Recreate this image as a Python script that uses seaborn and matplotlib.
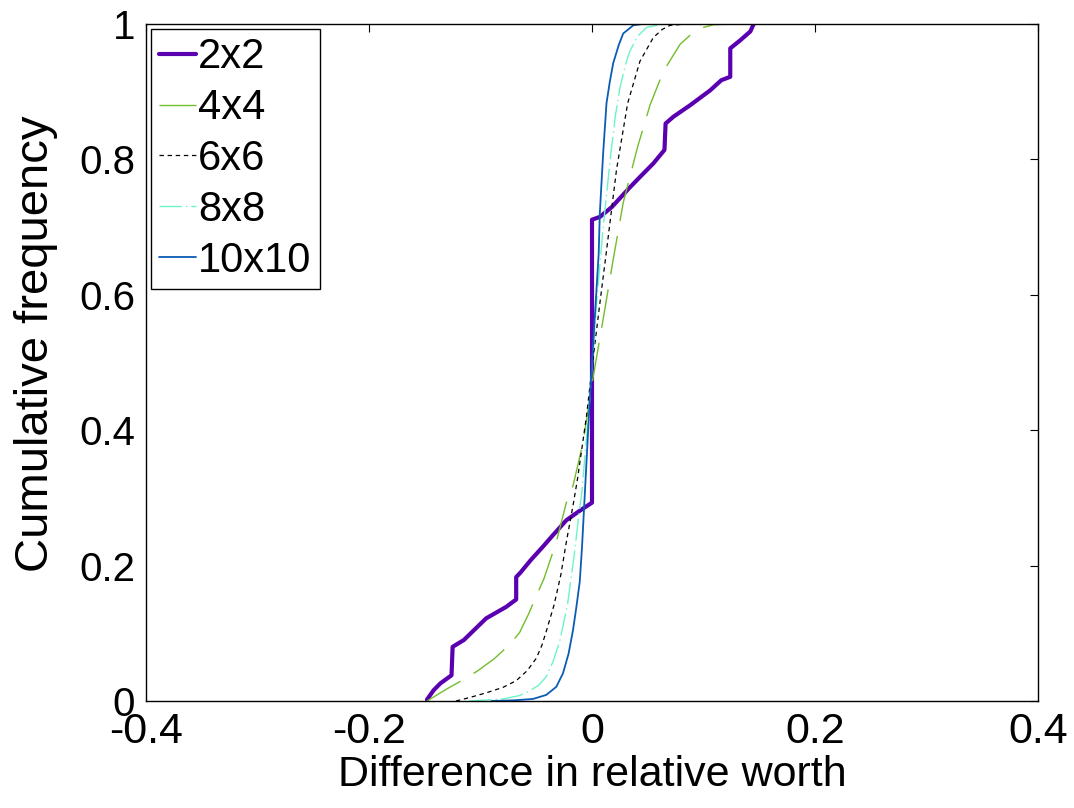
import numpy as np
import pandas as pd
import matplotlib
matplotlib.use("Agg")
import matplotlib.pyplot as plt
import seaborn as sns

# ---- data ----
x_2x2 = [-0.148, -0.142, -0.136, -0.126, -0.125, -0.115, -0.095, -0.077, -0.068, -0.068,
         -0.064, -0.055, -0.044, -0.035, -0.023, -0.011, 0.000, 0.000, 0.007, 0.018,
         0.033, 0.043, 0.055, 0.065, 0.066, 0.073, 0.088, 0.106, 0.116, 0.124,
         0.124, 0.133, 0.142, 0.145]
y_2x2 = [0.002, 0.016, 0.026, 0.038, 0.080, 0.090, 0.122, 0.139, 0.150, 0.183,
         0.190, 0.208, 0.228, 0.245, 0.267, 0.281, 0.293, 0.711, 0.715, 0.730,
         0.757, 0.774, 0.794, 0.814, 0.853, 0.863, 0.880, 0.902, 0.917, 0.922,
         0.964, 0.976, 0.989, 1.000]

x_4x4 = [-0.148, -0.130, -0.116, -0.103, -0.088, -0.074, -0.065, -0.057, -0.050, -0.043,
         -0.032, -0.023, -0.017, -0.008, 0.001, 0.010, 0.019, 0.028, 0.041, 0.052,
         0.064, 0.079, 0.091, 0.100, 0.109, 0.127]
y_4x4 = [0.000, 0.018, 0.031, 0.044, 0.062, 0.083, 0.101, 0.128, 0.155, 0.181,
         0.235, 0.293, 0.318, 0.382, 0.478, 0.564, 0.652, 0.736, 0.819, 0.880,
         0.930, 0.970, 0.988, 0.995, 0.999, 1.000]

x_6x6 = [-0.122, -0.110, -0.095, -0.080, -0.068, -0.058, -0.050, -0.045, -0.041, -0.034,
         -0.028, -0.023, -0.017, -0.013, -0.005, 0.002, 0.008, 0.013, 0.022, 0.032,
         0.043, 0.055, 0.063, 0.070, 0.085]
y_6x6 = [0.000, 0.005, 0.012, 0.020, 0.030, 0.045, 0.063, 0.082, 0.103, 0.142,
         0.186, 0.235, 0.289, 0.328, 0.420, 0.520, 0.600, 0.665, 0.785, 0.883,
         0.945, 0.980, 0.992, 0.998, 1.000]

x_8x8 = [-0.110, -0.080, -0.065, -0.056, -0.048, -0.041, -0.035, -0.029, -0.022, -0.016,
         -0.012, -0.009, -0.002, 0.004, 0.010, 0.017, 0.021, 0.025, 0.030, 0.034,
         0.041, 0.049, 0.065]
y_8x8 = [0.000, 0.003, 0.008, 0.015, 0.023, 0.036, 0.058, 0.088, 0.142, 0.215,
         0.272, 0.310, 0.446, 0.585, 0.700, 0.810, 0.865, 0.905, 0.940, 0.960,
         0.982, 0.995, 1.000]

x_10x10 = [-0.090, -0.070, -0.053, -0.041, -0.032, -0.026, -0.021, -0.017, -0.014, -0.011,
           -0.009, -0.002, 0.006, 0.007, 0.010, 0.013, 0.016, 0.019, 0.024, 0.028,
           0.037, 0.045]
y_10x10 = [0.000, 0.001, 0.003, 0.009, 0.021, 0.041, 0.070, 0.105, 0.139, 0.176,
           0.226, 0.445, 0.661, 0.720, 0.809, 0.883, 0.915, 0.942, 0.969, 0.986,
           0.998, 1.000]

series_names = ["2x2", "4x4", "6x6", "8x8", "10x10"]
x_ticks = [-0.4, -0.2, 0, 0.2, 0.4]
x_tick_labels = ["-0.4", "-0.2", "0", "0.2", "0.4"]
y_ticks = [0, 0.2, 0.4, 0.6, 0.8, 1]
y_tick_labels = ["0", "0.2", "0.4", "0.6", "0.8", "1"]

# ---- styling ----
sns.set_style("white")
plt.rcParams['font.family'] = ['Liberation Sans', 'DejaVu Sans']
plt.rcParams['text.color'] = 'black'
plt.rcParams['axes.labelcolor'] = 'black'
plt.rcParams['xtick.color'] = 'black'
plt.rcParams['ytick.color'] = 'black'

styles = {
    "2x2":   dict(color="#5a00b0", lw=3.0, ls="-"),
    "4x4":   dict(color="#72bd2a", lw=1.0, ls=(0, (28, 11))),
    "6x6":   dict(color="#000000", lw=0.9, ls=(0, (3.5, 3))),
    "8x8":   dict(color="#6cf5c8", lw=1.0, ls=(0, (16, 3, 1, 3))),
    "10x10": dict(color="#0b5cb5", lw=1.3, ls="-"),
}

xs = [x_2x2, x_4x4, x_6x6, x_8x8, x_10x10]
ys = [y_2x2, y_4x4, y_6x6, y_8x8, y_10x10]

fig = plt.figure(figsize=(10.74, 8.08), dpi=100)
ax = fig.add_axes([146 / 1074, 1 - 701 / 808, (1038 - 146) / 1074, (701 - 24) / 808])

for name, xv, yv in zip(series_names, xs, ys):
    df = pd.DataFrame({"x": xv, "y": yv})
    st = styles[name]
    sns.lineplot(data=df, x="x", y="y", ax=ax, sort=False, estimator=None,
                 color=st["color"], linewidth=st["lw"], linestyle=st["ls"], label=name)

ax.set_xlim(-0.4, 0.4)
ax.set_ylim(0, 1)
ax.set_xticks(x_ticks)
ax.set_xticklabels(x_tick_labels)
ax.set_yticks(y_ticks)
ax.set_yticklabels(y_tick_labels)
ax.tick_params(axis="both", which="both", direction="in", length=6, width=0.8,
               top=True, right=True, colors="black", labelsize=29, pad=8)
ax.tick_params(axis="x", labelsize=31, pad=8)
for sp in ax.spines.values():
    sp.set_visible(True)
    sp.set_color("black")
    sp.set_linewidth(1.0)

ax.set_xlabel("Difference in relative worth", fontsize=31, labelpad=2)
ax.set_ylabel("Cumulative frequency", fontsize=34)
ax.yaxis.set_label_coords(-0.099, 0.527)

leg = ax.legend(loc="upper left", fontsize=30, frameon=True, fancybox=False,
                edgecolor="black", framealpha=1, handlelength=0.87, handletextpad=0.06,
                labelspacing=0.26, borderpad=0.2, borderaxespad=0.12)
leg.get_frame().set_linewidth(1.0)

fig.savefig("out.png", dpi=100)
